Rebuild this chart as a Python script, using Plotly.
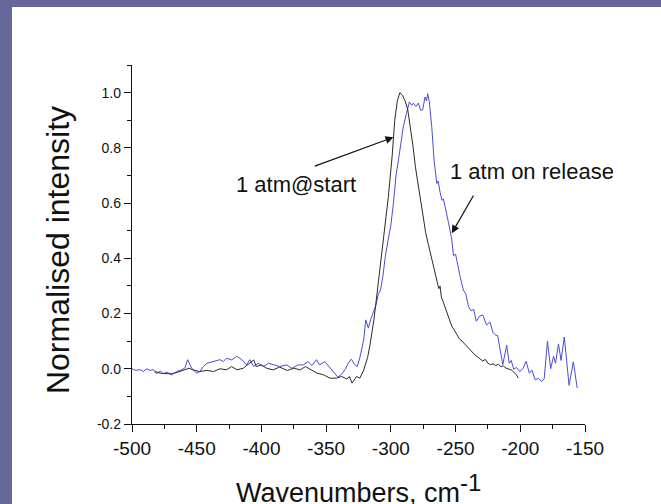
import plotly.graph_objects as go

# ---- data ----
start_x = [-482, -478, -473, -469, -465, -460, -456, -453, -448, -442, -437, -432, -427, -423, -419,
           -414, -409, -406, -404, -400, -396, -391, -386, -380, -375, -370, -366, -362, -357, -352,
           -347, -342, -338, -334, -332, -330, -326.5, -324, -321, -318, -316, -313, -311, -308, -306,
           -304, -302, -299, -297, -295, -293, -291, -289, -287, -285, -283, -281, -279, -277, -275,
           -273, -271, -269, -267, -265, -263, -262, -261, -259, -257, -255, -253, -251, -249, -247,
           -245, -243, -241, -239, -237, -235, -233, -231, -229, -227, -225, -223, -221, -219, -217,
           -215, -213, -211, -209, -207, -205, -203, -201.5]
start_y = [-0.01, -0.016, -0.018, -0.018, -0.013, -0.006, 0.002, -0.004, -0.01, -0.006, -0.01, 0.0,
           -0.004, 0.008, -0.004, 0.002, 0.02, 0.032, 0.008, 0.014, 0.002, -0.004, 0.006, -0.006,
           0.002, -0.004, 0.008, -0.004, -0.016, -0.022, -0.034, -0.034, -0.028, -0.037, -0.028,
           -0.052, -0.028, -0.034, -0.005, 0.04, 0.09, 0.18, 0.26, 0.36, 0.44, 0.53, 0.62, 0.77, 0.9,
           0.97, 1.0, 0.99, 0.97, 0.94, 0.88, 0.81, 0.73, 0.67, 0.6, 0.55, 0.49, 0.45, 0.41, 0.37,
           0.33, 0.29, 0.3, 0.26, 0.235, 0.21, 0.18, 0.155, 0.14, 0.123, 0.108, 0.1, 0.09, 0.079,
           0.069, 0.058, 0.05, 0.043, 0.036, 0.028, 0.034, 0.02, 0.015, 0.018, 0.012, 0.016, 0.008,
           0.01, 0.002, 0.0, -0.004, -0.012, -0.022, -0.034]

release_x = [-500, -497, -494, -491, -489, -486, -483.5, -481, -478, -476, -473, -469.5, -465.5,
             -461.5, -459, -457, -454, -450, -447.5, -445, -442, -437, -432, -429.5, -427, -423,
             -419, -415, -411.5, -409, -406, -402.5, -398.5, -394.5, -391, -386, -380.5, -376.5,
             -371.5, -367.5, -364, -361, -357.5, -355, -351, -347, -344, -341, -338, -335, -333,
             -330.5, -328, -326, -324, -321, -319.4, -317.4, -315.5, -313.5, -311.5, -309.7, -308,
             -306, -304.5, -302, -300, -298, -296, -294, -292, -290.4, -288, -285.7, -283.9,
             -282.6, -280.6, -278.8, -277, -275.4, -273.6, -272.5, -271.5, -270.3, -268.4, -266.6,
             -264.5, -263.5, -262, -260.5, -259.4, -258, -255.5, -253, -251.6, -250, -248, -246.5,
             -244, -242, -240, -238, -236, -234, -231.5, -229, -226, -223.5, -221, -219, -217.5,
             -215.5, -213.5, -210.5, -208.5, -207, -205, -203, -200.5, -198, -195.5, -193, -191,
             -188.5, -186, -183.5, -181.5, -179, -176.5, -174.3, -172.8, -170.5, -168.5, -166,
             -162.3, -159, -156]
release_y = [0.0, -0.006, -0.003, -0.01, 0.0, -0.006, -0.003, -0.018, -0.008, -0.018, -0.012,
             -0.022, -0.01, -0.004, 0.004, 0.033, 0.003, -0.016, -0.01, 0.008, 0.02, 0.026, 0.033,
             0.026, 0.038, 0.032, 0.045, 0.033, 0.014, 0.033, 0.008, 0.02, 0.008, 0.02, 0.014,
             0.008, 0.014, 0.002, 0.014, 0.014, 0.026, 0.012, 0.033, 0.014, 0.026, 0.004, -0.01,
             -0.03, -0.02, 0.0, 0.02, 0.035, 0.015, 0.008, 0.039, 0.105, 0.177, 0.147, 0.18, 0.207,
             0.23, 0.27, 0.285, 0.34, 0.4, 0.47, 0.52, 0.6, 0.7, 0.76, 0.82, 0.876, 0.924, 0.966,
             0.954, 0.962, 0.95, 0.962, 0.936, 0.938, 0.984, 0.97, 0.996, 0.966, 0.876, 0.755,
             0.671, 0.68, 0.64, 0.61, 0.615, 0.58, 0.53, 0.47, 0.41, 0.415, 0.36, 0.334, 0.285,
             0.27, 0.225, 0.21, 0.215, 0.172, 0.19, 0.195, 0.158, 0.17, 0.13, 0.122, 0.12, 0.07,
             0.015, 0.085, 0.02, 0.03, -0.002, 0.005, -0.01, 0.0, 0.027, -0.016, -0.005, -0.04,
             -0.035, -0.046, -0.035, 0.1, 0.0, 0.045, 0.02, 0.09, 0.03, 0.115, -0.06, 0.025, -0.07]

x_ticks = [-500, -450, -400, -350, -300, -250, -200, -150]
x_tick_labels = ["-500", "-450", "-400", "-350", "-300", "-250", "-200", "-150"]
y_ticks = [-0.2, 0.0, 0.2, 0.4, 0.6, 0.8, 1.0]
y_tick_labels = ["-0.2", "0.0", "0.2", "0.4", "0.6", "0.8", "1.0"]

label_start = "1 atm@start"
label_release = "1 atm on release"
x_title = "Wavenumbers, cm<sup><span style='font-size:24px'>-1</span></sup>"
y_title = "Normalised intensity"

FONT = "Arial, 'Liberation Sans', sans-serif"
BORDER = "#666699"

fig = go.Figure()
fig.add_trace(go.Scatter(x=release_x, y=release_y, mode="lines",
                         line=dict(color="#4c4cd8", width=1), name=label_release))
fig.add_trace(go.Scatter(x=start_x, y=start_y, mode="lines",
                         line=dict(color="#2a2a2a", width=1), name=label_start))

axis_common = dict(showline=True, linecolor="#111", linewidth=1.3, ticks="outside",
                   ticklen=7, tickwidth=1.3, tickcolor="#111", showgrid=False,
                   zeroline=False, mirror=False)

fig.update_xaxes(range=[-500, -150], tickmode="array", tickvals=x_ticks, ticktext=x_tick_labels,
                 tickfont=dict(family=FONT, size=19, color="#111"),
                 minor=dict(tick0=-500, dtick=25, ticks="outside", ticklen=4, tickwidth=1.3,
                            tickcolor="#111", showgrid=False),
                 **axis_common)
fig.update_yaxes(range=[-0.2, 1.1], tickmode="array", tickvals=y_ticks, ticktext=y_tick_labels,
                 tickfont=dict(family=FONT, size=14, color="#111"),
                 minor=dict(tick0=0, dtick=0.1, ticks="outside", ticklen=4, tickwidth=1.3,
                            tickcolor="#111", showgrid=False),
                 **axis_common)

annotations = [
    # arrows (head at x,y ; tail at ax,ay in data units)
    dict(x=-298.1, y=0.838, ax=-359.9, ay=0.732, xref="x", yref="y", axref="x", ayref="y",
         text="", showarrow=True, arrowhead=2, arrowsize=1.3, arrowwidth=1.2, arrowcolor="#111"),
    dict(x=-252.9, y=0.491, ax=-235.5, ay=0.633, xref="x", yref="y", axref="x", ayref="y",
         text="", showarrow=True, arrowhead=2, arrowsize=1.3, arrowwidth=1.2, arrowcolor="#111"),
    dict(x=-373.3, y=0.666, xref="x", yref="y", text=label_start, showarrow=False,
         font=dict(family=FONT, size=22, color="#111"), xanchor="center", yanchor="middle"),
    dict(x=-191.3, y=0.713, xref="x", yref="y", text=label_release, showarrow=False,
         font=dict(family=FONT, size=22, color="#111"), xanchor="center", yanchor="middle"),
    # axis titles
    dict(x=0.5, y=-0.18, xref="paper", yref="paper", text=x_title, showarrow=False,
         font=dict(family=FONT, size=27, color="#111"), xanchor="center", yanchor="middle"),
    dict(x=-0.163, y=0.485, xref="paper", yref="paper", text=y_title, showarrow=False,
         textangle=-90, font=dict(family=FONT, size=32, color="#111"),
         xanchor="center", yanchor="middle"),
]

# plot area: l=132, r=76, t=65, b=80 -> 453 x 359 px
shapes = [dict(type="rect", xref="paper", yref="paper", layer="below",
               x0=(12 - 132) / 453, x1=(720 - 132) / 453,
               y0=(424 - 600) / 359, y1=(424 - 7) / 359,
               fillcolor="white", line=dict(width=0))]

fig.update_layout(width=661, height=504, margin=dict(l=132, r=76, t=65, b=80),
                  paper_bgcolor=BORDER, plot_bgcolor="white", showlegend=False,
                  annotations=annotations, shapes=shapes,
                  font=dict(family=FONT, color="#111"))

fig.write_html("out.html")
